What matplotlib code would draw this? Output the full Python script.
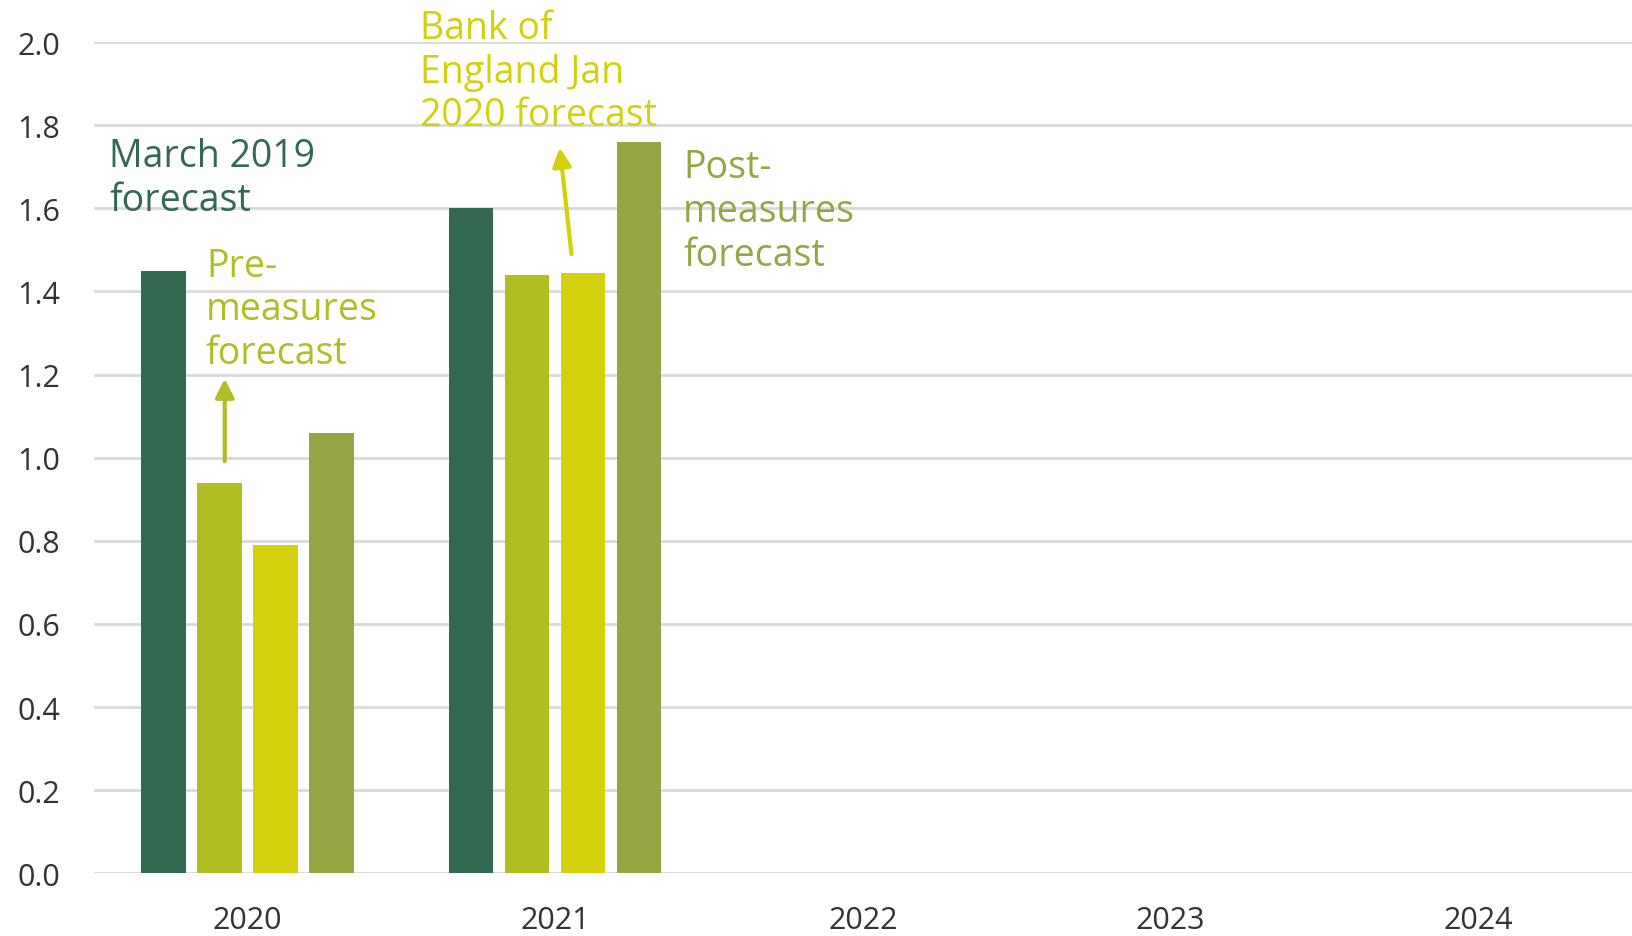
import matplotlib
matplotlib.use('Agg')
import matplotlib.pyplot as plt
import numpy as np

plt.rcParams['font.family'] = ['Open Sans', 'DejaVu Sans']

# data
years = ['2020', '2021', '2022', '2023', '2024']
march_2019 = [1.45, 1.60]
pre_measures = [0.94, 1.44]
boe_jan_2020 = [0.79, 1.445]
post_measures = [1.06, 1.76]

series = [march_2019, pre_measures, boe_jan_2020, post_measures]
colors = ['#336950', '#B0BE22', '#D4D00E', '#94A544']

fig = plt.figure(figsize=(16.32, 9.37), dpi=100)
ax = fig.add_axes([0.0574, 0.0669, 0.9426, 0.8871])

step = 0.182
width = 0.145
for i, (vals, c) in enumerate(zip(series, colors)):
    x = np.arange(len(vals)) + (i - 1.5) * step
    ax.bar(x, vals, width=width, color=c, zorder=3)

ax.set_xlim(-0.5, 4.5)
ax.set_ylim(0, 2.0)
ax.set_xticks(range(len(years)))
ax.set_xticklabels(years)
ax.set_yticks(np.arange(0, 2.01, 0.2))
ax.set_yticklabels([f'{v:.1f}' for v in np.arange(0, 2.01, 0.2)])
ax.tick_params(axis='both', length=0, labelsize=22, colors='#333333')
ax.tick_params(axis='y', pad=24)
ax.tick_params(axis='x', pad=23)
ax.grid(axis='y', color='#D9D9D9', linewidth=2, zorder=0)
for s in ax.spines.values():
    s.set_visible(False)

# annotations
kw = dict(fontsize=27, va='top', ha='left', linespacing=1.2, clip_on=False)
ax.text(-0.45, 1.772, 'March 2019\nforecast', color=colors[0], **kw)
ax.text(-0.135, 1.508, 'Pre-\nmeasures\nforecast', color=colors[1], **kw)
ax.text(0.56, 2.08, 'Bank of\nEngland Jan\n2020 forecast', color=colors[2], **kw)
ax.text(1.416, 1.745, 'Post-\nmeasures\nforecast', color=colors[3], **kw)

ax.annotate('', xy=(-0.074, 1.197), xytext=(-0.074, 0.985),
            arrowprops=dict(arrowstyle='-|>', color=colors[1], lw=3, mutation_scale=28))
ax.annotate('', xy=(1.014, 1.753), xytext=(1.054, 1.483),
            arrowprops=dict(arrowstyle='-|>', color=colors[2], lw=3, mutation_scale=28))

fig.savefig('out.png', dpi=100)
